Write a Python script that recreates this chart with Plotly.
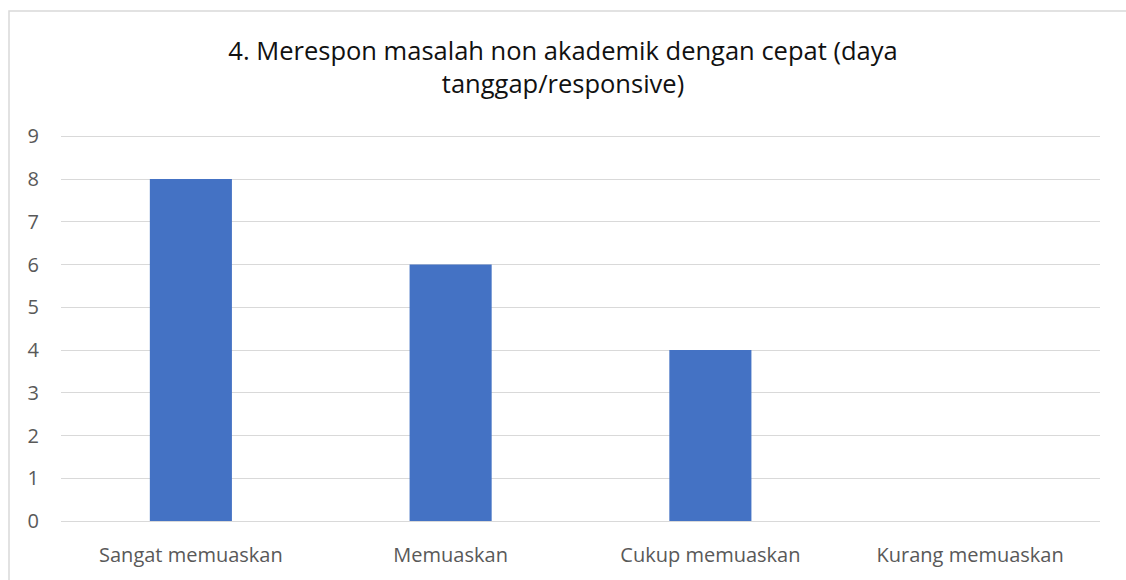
import plotly.graph_objects as go

categories = ["Sangat memuaskan", "Memuaskan", "Cukup memuaskan", "Kurang memuaskan"]
values = [8, 6, 4, 0]
y_ticks = [0, 1, 2, 3, 4, 5, 6, 7, 8, 9]
title_text = "4. Merespon masalah non akademik dengan cepat (daya<br>tanggap/responsive)"

fig = go.Figure(go.Bar(x=categories, y=values, marker=dict(color="#4472C4", line=dict(width=0)),
                       hoverinfo="skip"))

fig.update_layout(
    width=1126, height=580,
    margin=dict(l=61, r=26, t=132, b=56),
    paper_bgcolor="white", plot_bgcolor="white",
    bargap=0.684,
    showlegend=False,
    font=dict(family="Open Sans, Lato, sans-serif", color="#595959", size=20),
    title=dict(text=title_text, x=0.5, xanchor="center", y=0.897, yanchor="middle",
               font=dict(size=25.5, color="#111111", family="Open Sans, sans-serif")),
    xaxis=dict(showgrid=False, showline=False, ticks="", tickfont=dict(size=20, color="#595959"),
               ticklabelstandoff=20),
    yaxis=dict(range=[0, 9.1], tickvals=y_ticks, showgrid=True, gridcolor="#D9D9D9", gridwidth=1,
               zeroline=True, zerolinecolor="#D9D9D9", zerolinewidth=1, showline=False,
               ticks="", tickfont=dict(size=20, color="#595959"), ticklabelstandoff=21),
    shapes=[dict(type="rect", xref="paper", yref="paper", x0=-52/1039, x1=1+40/1039,
                 y0=-80/392, y1=1+122/392, line=dict(color="#D9D9D9", width=1.5), fillcolor="rgba(0,0,0,0)")],
)

fig.write_html("out.html", config={"displayModeBar": False},
               post_script="document.body.style.margin='0';document.body.style.overflow='hidden';")
